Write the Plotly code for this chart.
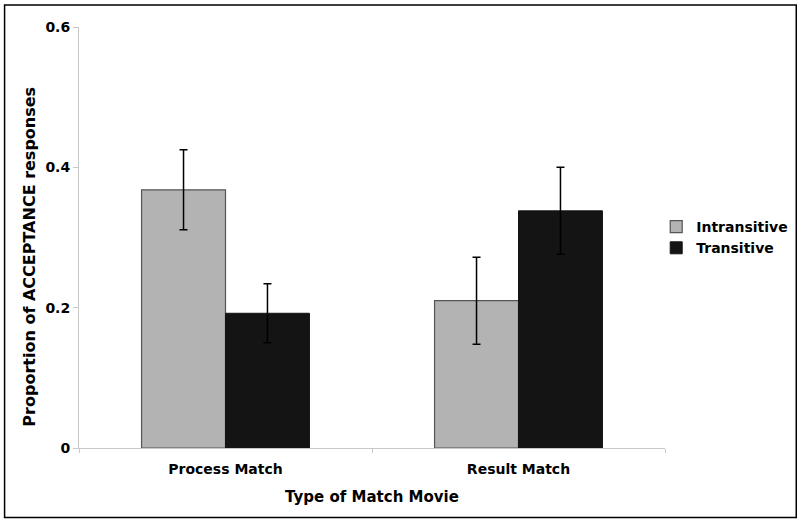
import plotly.graph_objects as go

categories = ['Process Match', 'Result Match']
intransitive = [0.368, 0.210]
intransitive_err = [0.057, 0.062]
transitive = [0.192, 0.338]
transitive_err = [0.042, 0.062]
y_ticks = [0, 0.2, 0.4, 0.6]
y_tick_labels = ['0', '0.2', '0.4', '0.6']

font_family = 'DejaVu Sans'
colors = {'gray': '#B3B3B3', 'black': '#141414', 'axis': '#C8C8C8'}

fig = go.Figure()

fig.add_trace(go.Bar(
    x=categories,
    y=intransitive,
    name='Intransitive',
    marker=dict(color=colors['gray'], line=dict(color='#555555', width=1.2)),
    error_y=dict(type='data', array=intransitive_err, color='black', thickness=1.5, width=4)
))

fig.add_trace(go.Bar(
    x=categories,
    y=transitive,
    name='Transitive',
    marker=dict(color=colors['black'], line=dict(color='#141414', width=1)),
    error_y=dict(type='data', array=transitive_err, color='black', thickness=1.5, width=4)
))

fig.update_xaxes(
    showline=True, linecolor=colors['axis'], linewidth=1,
    ticks='outside', tickson='boundaries', ticklen=4, tickcolor=colors['axis'],
    ticklabelstandoff=8, showgrid=False,
    tickfont=dict(family=font_family, size=14, color='black', weight='bold'),
    title=dict(text='Type of Match Movie', standoff=15,
               font=dict(family=font_family, size=15, color='black', weight='bold')),
)

fig.update_yaxes(
    range=[0, 0.6], tickvals=y_ticks, ticktext=y_tick_labels,
    showline=True, linecolor=colors['axis'], linewidth=1,
    ticks='outside', ticklen=5, tickcolor=colors['axis'], showgrid=False, zeroline=False,
    tickfont=dict(family=font_family, size=14, color='black', weight='bold'),
)

fig.add_annotation(
    text='Proportion of ACCEPTANCE responses', textangle=-90,
    xref='paper', yref='paper', x=-0.085, y=0.455, xanchor='center', yanchor='middle',
    showarrow=False,
    font=dict(family=font_family, size=16, color='black', weight='bold')
)

# outer frame of the chart
fig.add_shape(type='rect', xref='paper', yref='paper',
              x0=-0.127, x1=1.224, y0=-0.165, y1=1.052,
              line=dict(color='black', width=1.5))

fig.update_layout(
    width=800, height=522,
    margin=dict(l=79, r=135, t=27, b=74, autoexpand=False),
    plot_bgcolor='white', paper_bgcolor='white',
    barmode='group', bargap=0.427, bargroupgap=0,
    showlegend=True,
    legend=dict(x=0.985, y=0.5, yanchor='middle', xanchor='left',
                font=dict(family=font_family, size=14, color='black', weight='bold'),
                itemwidth=30, tracegroupgap=2),
)

# drop the default page margin so the figure sits at the window corner
fig.write_html('out.html', config={'displayModeBar': False},
               post_script="document.body.style.margin='0';")
